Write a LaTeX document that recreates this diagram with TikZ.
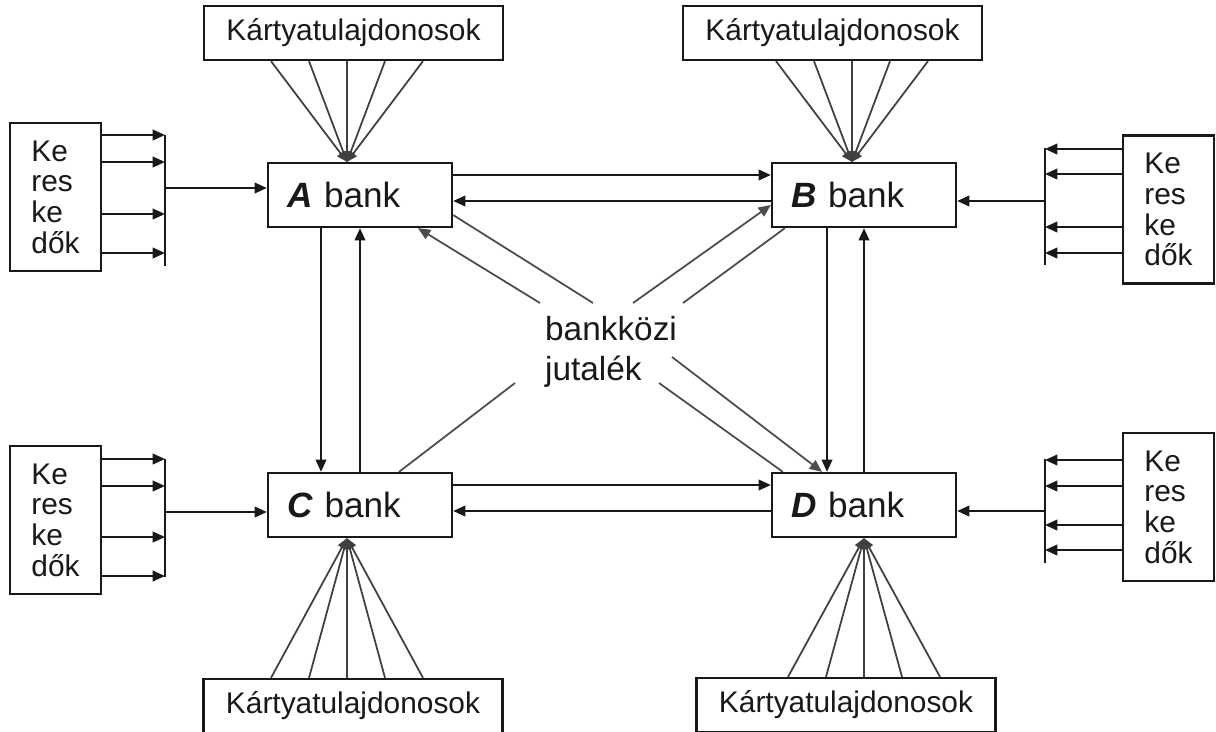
\documentclass[tikz,border=0pt]{standalone}
\usepackage{fontspec}
\setmainfont{Liberation Sans}
\usetikzlibrary{arrows.meta,calc}

\begin{document}
\begin{tikzpicture}[x=0.02cm,y=-0.02cm,line width=1.2pt,color=black!90,
  bank/.style={draw,line width=1.3pt,text width=2.92cm,inner xsep=0.38cm,minimum height=1.28cm,align=left,font=\fontsize{20}{24}\selectfont},
  card/.style={draw,line width=1.3pt,minimum width=5.98cm,minimum height=1.08cm,inner sep=0pt,font=\fontsize{17}{20}\selectfont},
  merch/.style={draw,line width=1.3pt,minimum width=1.82cm,minimum height=2.96cm,align=left,font=\fontsize{17}{17.5}\selectfont},
  arr/.style={-{Triangle[length=7pt,width=6pt]}},
  fan/.style={draw=black!75,line width=1pt,-{Triangle[length=6pt,width=5pt]}},
  fee/.style={draw=black!70,line width=1pt},
  bus/.style={line width=1.6pt}]

\useasboundingbox[fill=white] (0,0) rectangle (1216,731);

\node[bank] (A) at (360,195) {\textbf{\textit{A}} bank};
\node[bank] (B) at (864,195) {\textbf{\textit{B}} bank};
\node[bank] (C) at (360,505) {\textbf{\textit{C}} bank};
\node[bank] (D) at (864,505) {\textbf{\textit{D}} bank};

\node[card] (kA) at (353.5,33) {Kártyatulajdonosok};
\node[card] (kB) at (832.5,33) {Kártyatulajdonosok};
\node[card] (kC) at (353,706) {Kártyatulajdonosok};
\node[card] (kD) at (846,705) {Kártyatulajdonosok};

\node[merch] (mA) at (55.5,197) {Ke\\res\\ke\\dők};
\node[merch] (mB) at (1168.5,209.5) {Ke\\res\\ke\\dők};
\node[merch] (mC) at (55.5,520) {Ke\\res\\ke\\dők};
\node[merch] (mD) at (1168.5,507) {Ke\\res\\ke\\dők};

\node[align=left,font=\fontsize{19}{22.5}\selectfont] (jut) at (611,352) {bankközi\\jutalék};

\coordinate (fA) at ($(A.north)+(-13,0)$);
\coordinate (fB) at ($(B.north)+(-12,0)$);
\coordinate (fC) at ($(C.south)+(-13,0)$);
\coordinate (fD) at (D.south);
\foreach \dx in {-76,-38,0,38,76} {
  \draw[fan] ($(fA |- kA.south)+(\dx,0)$) -- (fA);
  \draw[fan] ($(fB |- kB.south)+(\dx,0)$) -- (fB);
  \draw[fan] ($(fC |- kC.north)+(\dx,0)$) -- (fC);
  \draw[fan] ($(fD |- kD.north)+(\dx,0)$) -- (fD);
}

\foreach \y [count=\i] in {135,162,214,253} {
  \coordinate (pA\i) at (165,\y);
  \draw[arr] (mA.east |- pA\i) -- (pA\i);
}
\foreach \y [count=\i] in {459,486,537,576} {
  \coordinate (pC\i) at (165,\y);
  \draw[arr] (mC.east |- pC\i) -- (pC\i);
}
\foreach \y [count=\i] in {149,174,227,253} {
  \coordinate (pB\i) at (1045,\y);
  \draw[arr] (mB.west |- pB\i) -- (pB\i);
}
\foreach \y [count=\i] in {460,486,525,550} {
  \coordinate (pD\i) at (1045,\y);
  \draw[arr] (mD.west |- pD\i) -- (pD\i);
}
\draw[bus] (pA1) -- ($(pA4)+(0,13)$);
\draw[bus] (pC1) -- ($(pC4)+(0,1)$);
\draw[bus] ($(pB1)+(0,-1)$) -- ($(pB4)+(0,12)$);
\draw[bus] ($(pD1)+(0,-1)$) -- ($(pD4)+(0,13)$);

\coordinate (qA) at (165,188);
\coordinate (qC) at (165,512);
\coordinate (qB) at (1045,201);
\coordinate (qD) at (1045,511);
\draw[arr] (qA) -- (A.west |- qA);
\draw[arr] (qC) -- (C.west |- qC);
\draw[arr] (qB) -- (B.east |- qB);
\draw[arr] (qD) -- (D.east |- qD);

\draw[arr] ($(A.east)+(0,-20)$) -- ($(B.west)+(0,-20)$);
\draw[arr] ($(B.west)+(0,6)$) -- ($(A.east)+(0,6)$);
\draw[arr] ($(C.east)+(0,-20)$) -- ($(D.west)+(0,-20)$);
\draw[arr] ($(D.west)+(0,6)$) -- ($(C.east)+(0,6)$);
\draw[arr] ($(A.south)+(-39,0)$) -- ($(C.north)+(-39,0)$);
\draw[arr] (C.north) -- (A.south);
\draw[arr] ($(B.south)+(-37,0)$) -- ($(D.north)+(-37,0)$);
\draw[arr] (D.north) -- (B.south);

\coordinate (j1) at (540,303);
\coordinate (j2) at (593,303);
\coordinate (j3) at (633,303);
\coordinate (j4) at (683,303);
\coordinate (j5) at (515,383);
\coordinate (j6) at (672,357);
\coordinate (j7) at (659,383);
\draw[fee,arr] (j1) -- ($(A.south)+(58,0)$);
\draw[fee] (j2) -- ($(A.east)+(0,20)$);
\draw[fee,arr] (j3) -- ($(B.west)+(0,10)$);
\draw[fee] (j4) -- ($(B.south west)+(14,0)$);
\draw[fee] (j5) -- ($(C.north)+(39,0)$);
\draw[fee,arr] (j6) -- ($(D.north)+(-42,0)$);
\draw[fee] (j7) -- ($(D.north west)+(12,0)$);

\end{tikzpicture}
\end{document}
